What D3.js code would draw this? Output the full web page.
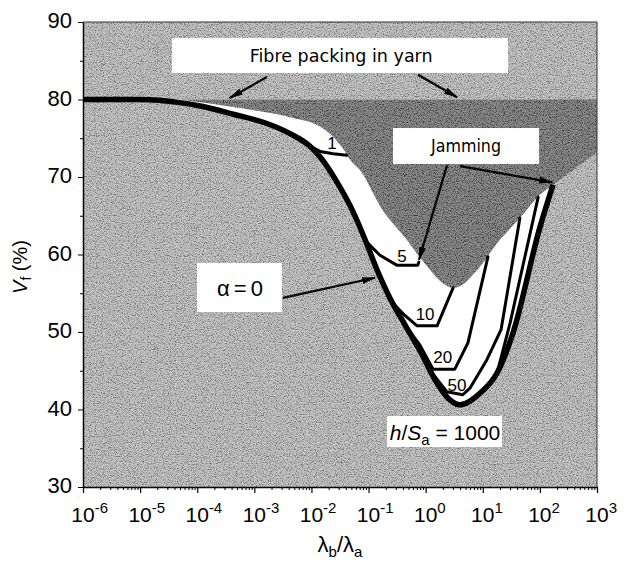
<!DOCTYPE html>
<html>
<head>
<meta charset="utf-8">
<title>Vf against lambda_b / lambda_a</title>
<script src="https://cdn.jsdelivr.net/npm/d3@7"></script>
<style>
  body { margin: 0; background: #fff; }
  .tick text, .axis-title, .plain { font-family: "Liberation Sans", Arial, sans-serif; fill: #000; }
  .round { font-family: "DejaVu Sans", sans-serif; fill: #000; }
  .axis path, .axis line { stroke: #000; }
</style>
</head>
<body>
<svg id="chart" width="626" height="562"></svg>
<script>
// every point is [log10(lambda_b / lambda_a), Vf in %]
var decades = [-6, -5, -4, -3, -2, -1, 0, 1, 2, 3];
var vfTicks = [30, 40, 50, 60, 70, 80, 90];
var vfMinor = [35, 45, 55, 65, 75, 85];
var fibrePacking = 80;

var jamming = [[-4.3, 80], [-3.25, 78.9], [-2.375, 77.7], [-1.8, 76.3], [-1.45, 73.7],
  [-1.32, 72.2], [-1.15, 70.9], [-0.75, 65.7], [-0.33, 61.9], [-0.13, 59.9], [0.08, 58.0],
  [0.3, 56.3], [0.48, 55.7], [0.6, 55.9], [0.9, 58.0], [1.3, 61.9], [1.65, 64.7],
  [2.0, 67.7], [2.23, 69.0], [3.0, 73.2]];

var alphaZero = [[-6, 80], [-5, 80], [-4.3, 79.6], [-3.9, 79.1], [-3.37, 78.1], [-2.78, 76.9],
  [-2.375, 75.6], [-2.03, 74.0], [-1.85, 72.6], [-1.55, 69.3], [-1.27, 65.5], [-1.06, 61.9],
  [-0.85, 58.0], [-0.62, 54.3], [-0.36, 50.9], [-0.1, 47.6], [0.2, 43.4], [0.43, 41.2],
  [0.6, 40.6], [0.95, 42.1], [1.25, 44.7], [1.53, 49.9], [2.0, 63.5], [2.23, 69.0]];

var hsValues = ['1', '5', '10', '20', '50', '1000'];
var hs1 = [[-2.2, 75.0], [-2.0, 73.9], [-1.85, 73.3], [-1.62, 73.0], [-1.38, 72.8]];
var hs5 = [[-1.03, 61.6], [-0.8, 59.9], [-0.5, 58.6], [-0.14, 58.6], [-0.12, 59.0]];
var hs10 = [[-0.62, 54.1], [-0.36, 52.1], [-0.15, 50.8], [0.2, 50.8], [0.48, 55.7]];
var hs20 = [[-0.36, 50.9], [-0.1, 48.3], [0.13, 45.2], [0.51, 45.2], [0.74, 48.6], [1.09, 59.7]];
var hs50 = [[0.02, 45.6], [0.37, 42.3], [0.65, 41.9], [0.78, 42.8], [1.07, 46.4], [1.32, 50.3], [1.65, 64.7]];
var hs1000 = [[1.25, 44.7], [1.48, 51.2], [1.97, 67.4]];
var hsCurves = [hs1, hs5, hs10, hs20, hs50, hs1000];

var svg = d3.select('#chart');
var x = d3.scaleLog().domain([1e-6, 1e3]).range([83, 597]);
var y = d3.scaleLinear().domain([30, 90]).range([487, 22]);
function sx(d) { return x(Math.pow(10, d[0])); }
function sy(d) { return y(d[1]); }

var x0 = x.range()[0], x1 = x.range()[1], yTop = y.range()[1], yBot = y.range()[0];

var defs = svg.append('defs');
defs.append('clipPath').attr('id', 'plotClip').append('rect')
  .attr('x', x0).attr('y', yTop).attr('width', x1 - x0).attr('height', yBot - yTop);

var grain = defs.append('filter').attr('id', 'grain')
  .attr('x', 0).attr('y', 0).attr('width', 1).attr('height', 1);
grain.append('feTurbulence').attr('type', 'fractalNoise')
  .attr('baseFrequency', 0.85).attr('numOctaves', 2).attr('seed', 7);
grain.append('feColorMatrix').attr('type', 'matrix')
  .attr('values', '3 0 0 0 -1  3 0 0 0 -1  3 0 0 0 -1  0 0 0 0 1');

defs.append('marker').attr('id', 'head')
  .attr('viewBox', '0 0 14 7').attr('refX', 13).attr('refY', 3.5)
  .attr('markerWidth', 14).attr('markerHeight', 7)
  .attr('markerUnits', 'userSpaceOnUse').attr('orient', 'auto')
  .append('path').attr('d', 'M0,0L14,3.5L0,7Z').attr('fill', '#000');

var darkArea = d3.area().x(sx).y0(y(fibrePacking)).y1(sy).curve(d3.curveMonotoneX);
var whiteArea = d3.area().x(sx).y0(y(fibrePacking)).y1(sy).curve(d3.curveMonotoneX);
var smooth = d3.line().x(sx).y(sy).curve(d3.curveMonotoneX);
var straight = d3.line().x(sx).y(sy);

defs.append('clipPath').attr('id', 'darkClip').append('path').attr('d', darkArea(jamming));

var plot = svg.append('g').attr('clip-path', 'url(#plotClip)');

// halftone-like background
plot.append('rect').attr('x', x0).attr('y', yTop).attr('width', x1 - x0).attr('height', yBot - yTop)
  .attr('fill', '#b3b3b3');
plot.append('rect').attr('x', x0).attr('y', yTop).attr('width', x1 - x0).attr('height', yBot - yTop)
  .attr('filter', 'url(#grain)').attr('opacity', 0.3);

// region reachable between alpha = 0 and jamming
plot.append('path').attr('d', whiteArea(alphaZero)).attr('fill', '#fff');

// jamming region
plot.append('path').attr('d', darkArea(jamming)).attr('fill', '#616161');
plot.append('rect').attr('x', x0).attr('y', yTop).attr('width', x1 - x0).attr('height', yBot - yTop)
  .attr('clip-path', 'url(#darkClip)').attr('filter', 'url(#grain)').attr('opacity', 0.3);

plot.selectAll('.hs').data(hsCurves).enter().append('path')
  .attr('class', 'hs')
  .attr('d', straight)
  .attr('fill', 'none').attr('stroke', '#000').attr('stroke-width', 3)
  .attr('stroke-linejoin', 'round').attr('stroke-linecap', 'round');

plot.append('path').attr('d', smooth(alphaZero))
  .attr('fill', 'none').attr('stroke', '#000').attr('stroke-width', 5.5)
  .attr('stroke-linejoin', 'round');

// curve labels (h/Sa), anchored in data space
var curveLabelAt = [[-1.64, 74.4], [-0.415, 59.8], [-0.01, 52.4], [0.3, 46.8], [0.55, 43.2]];
svg.selectAll('.clabel').data(curveLabelAt).enter().append('text')
  .attr('class', 'plain clabel')
  .attr('x', sx).attr('y', sy)
  .attr('dy', '0.36em')
  .attr('text-anchor', 'middle')
  .style('font-size', '17px')
  .text(function(d, i) { return hsValues[i]; });

// boxed notes: [lx0, V0, lx1, V1]
function box(b) {
  svg.append('rect')
    .attr('x', x(Math.pow(10, b[0]))).attr('y', y(b[1]))
    .attr('width', x(Math.pow(10, b[2])) - x(Math.pow(10, b[0])))
    .attr('height', y(b[3]) - y(b[1]))
    .attr('fill', '#fff');
}
function arrow(from, to) {
  svg.append('line')
    .attr('x1', sx(from)).attr('y1', sy(from)).attr('x2', sx(to)).attr('y2', sy(to))
    .attr('stroke', '#000').attr('stroke-width', 2.2).attr('marker-end', 'url(#head)');
}

box([-4.442, 87.94, 1.442, 83.42]);
svg.append('text').attr('class', 'round')
  .attr('x', sx([-1.48, 0])).attr('y', y(85.6)).attr('dy', '0.36em')
  .attr('text-anchor', 'middle').style('font-size', '17px')
  .attr('textLength', 183).attr('lengthAdjust', 'spacingAndGlyphs')
  .text('Fibre packing in yarn');
arrow([-2.78, 82.9], [-3.43, 80.2]);
arrow([-0.134, 83.2], [0.55, 80.3]);

box([-0.572, 76.32, 1.985, 71.68]);
svg.append('text').attr('class', 'round')
  .attr('x', sx([0.706, 0])).attr('y', y(74.0)).attr('dy', '0.36em')
  .attr('text-anchor', 'middle').style('font-size', '18px')
  .attr('textLength', 70).attr('lengthAdjust', 'spacingAndGlyphs')
  .text('Jamming');
arrow([0.374, 71.5], [-0.117, 59.3]);
arrow([0.601, 71.4], [2.22, 69.3]);

box([-4.004, 58.9, -2.515, 52.58]);
svg.append('text').attr('class', 'plain')
  .attr('x', sx([-3.25, 0])).attr('y', y(55.7)).attr('dy', '0.36em')
  .attr('text-anchor', 'middle').style('font-size', '22px')
  .attr('textLength', 46).attr('lengthAdjust', 'spacing')
  .text('\u03b1 = 0');
arrow([-2.498, 54.4], [-0.887, 57.0]);

box([-0.677, 39.16, 1.337, 35.16]);
var hs = svg.append('text').attr('class', 'plain')
  .attr('x', sx([0.339, 0])).attr('y', y(37.1)).attr('dy', '0.36em')
  .attr('text-anchor', 'middle').style('font-size', '21px');
hs.append('tspan').style('font-style', 'italic').text('h');
hs.append('tspan').text('/');
hs.append('tspan').style('font-style', 'italic').text('S');
hs.append('tspan').attr('dy', 5).style('font-size', '15px').text('a');
hs.append('tspan').attr('dy', -5).text(' = 1000');

// axes
var minorX = [];
decades.slice(0, -1).forEach(function(e) {
  for (var k = 2; k < 10; k++) minorX.push(k * Math.pow(10, e));
});

svg.append('g').attr('class', 'axis').attr('transform', 'translate(0,' + yBot + ')')
  .call(d3.axisBottom(x).tickValues(minorX).tickSize(3).tickSizeOuter(0).tickFormat(''))
  .call(function(g) { g.select('.domain').remove(); });
svg.append('g').attr('class', 'axis').attr('transform', 'translate(0,' + yBot + ')')
  .call(d3.axisBottom(x).tickValues(decades.map(function(e) { return Math.pow(10, e); }))
    .tickSize(6).tickSizeOuter(0).tickFormat(''))
  .call(function(g) {
    g.select('.domain').attr('stroke-width', 1.5);
    g.selectAll('.tick line').attr('stroke-width', 1.2);
  });

var xl = svg.append('g').selectAll('text').data(decades).enter().append('text')
  .attr('class', 'plain')
  .attr('x', function(e) { return x(Math.pow(10, e)) - 11.7; })
  .attr('y', 522)
  .style('font-size', '21px');
xl.append('tspan').text('10');
xl.append('tspan').attr('dy', -9).style('font-size', '15px').text(function(e) { return String(e); });

svg.append('g').attr('class', 'axis').attr('transform', 'translate(' + x0 + ',0)')
  .call(d3.axisLeft(y).tickValues(vfMinor).tickSize(3).tickSizeOuter(0).tickFormat(''))
  .call(function(g) { g.select('.domain').remove(); });
svg.append('g').attr('class', 'axis').attr('transform', 'translate(' + x0 + ',0)')
  .call(d3.axisLeft(y).tickValues(vfTicks).tickSize(5).tickSizeOuter(0).tickPadding(6))
  .call(function(g) {
    g.select('.domain').attr('stroke-width', 1.5);
    g.selectAll('.tick text').attr('dy', '0.25em').style('font-size', '22px');
  });

// frame top and right
svg.append('path')
  .attr('d', 'M' + x0 + ',' + yTop + 'H' + x1 + 'V' + yBot)
  .attr('fill', 'none').attr('stroke', '#333').attr('stroke-width', 1);

// axis titles
var yt = svg.append('text').attr('class', 'axis-title')
  .attr('transform', 'rotate(-90)')
  .attr('x', -267).attr('y', 27)
  .attr('text-anchor', 'middle').style('font-size', '20px');
yt.append('tspan').style('font-style', 'italic').text('V');
yt.append('tspan').attr('dy', 4).style('font-size', '14px').text('f');
yt.append('tspan').attr('dy', -4).text(' (%)');

var xt = svg.append('text').attr('class', 'axis-title')
  .attr('x', (x0 + x1) / 2).attr('y', 552)
  .attr('text-anchor', 'middle').style('font-size', '22px');
xt.append('tspan').text('\u03bb');
xt.append('tspan').attr('dy', 5).style('font-size', '15px').text('b');
xt.append('tspan').attr('dy', -5).text('/\u03bb');
xt.append('tspan').attr('dy', 5).style('font-size', '15px').text('a');
</script>
</body>
</html>
